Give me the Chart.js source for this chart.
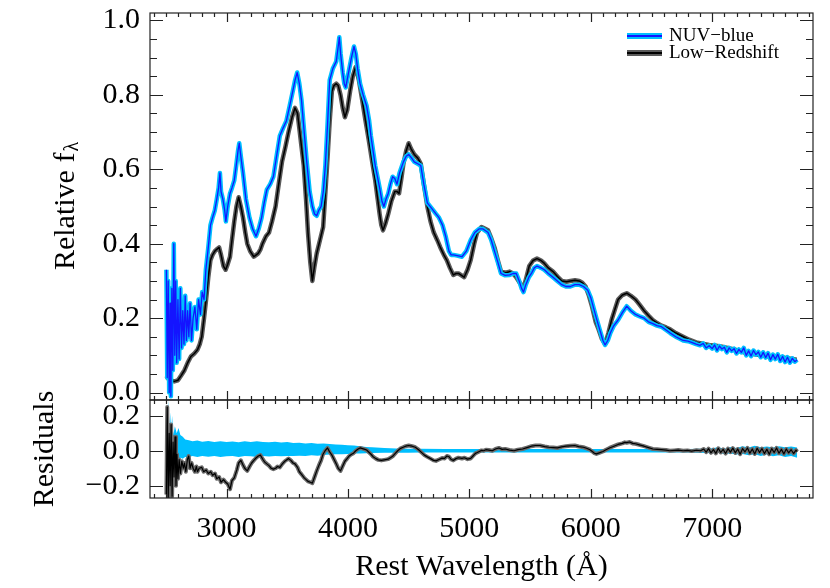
<!DOCTYPE html>
<html><head><meta charset="utf-8">
<script src="https://cdn.jsdelivr.net/npm/chart.js@4.4.1/dist/chart.umd.min.js"></script>
<style>
html,body{margin:0;padding:0;background:#fff;width:830px;height:588px;overflow:hidden}
canvas{position:absolute;left:0;top:0}
</style></head><body>
<canvas id="main" width="830" height="588"></canvas>
<canvas id="resid" width="830" height="588"></canvas>
<script>
// ---------------- data ----------------
const xTicks = [3000, 4000, 5000, 6000, 7000];
const mainYTicks = [0.0, 0.2, 0.4, 0.6, 0.8, 1.0];
const mainYMinor = [0.05,0.1,0.15,0.25,0.3,0.35,0.45,0.5,0.55,0.65,0.7,0.75,0.85,0.9,0.95];
const residYTicks = [-0.2, 0.0, 0.2];
const legendLabels = ['NUV\u2212blue', 'Low\u2212Redshift'];

const nuvWave = [2505,2512,2520,2528,2535,2542,2550,2558,2566,2574,2582,2590,2600,2610,2620,2630,2640,2650,2660,2670,2680,2690,2700,2712,2725,2740,2755,2770,2785,2800,2815,2830,2850,2868,2885,2904,2920,2935,2946,2955,2970,2985,2995,3010,3029,3045,3064,3080,3095,3105,3120,3136,3160,3189,3215,3243,3265,3289,3310,3332,3360,3386,3410,3439,3465,3493,3520,3546,3565,3582,3600,3618,3640,3661,3685,3707,3725,3743,3760,3779,3797,3814,3832,3850,3875,3904,3920,3929,3940,3957,3970,3982,4005,4029,4050,4065,4080,4100,4125,4154,4175,4189,4207,4225,4243,4261,4280,4296,4314,4332,4350,4368,4386,4404,4425,4457,4480,4500,4525,4546,4575,4600,4625,4654,4690,4725,4750,4779,4805,4832,4850,4868,4900,4939,4975,5011,5045,5082,5110,5154,5180,5207,5235,5261,5295,5332,5360,5386,5410,5430,5446,5465,5490,5511,5535,5557,5590,5618,5650,5689,5725,5761,5795,5832,5870,5904,5940,5975,6000,6025,6046,6064,6082,6100,6118,6140,6161,6190,6225,6260,6296,6330,6368,6400,6439,6475,6511,6545,6582,6620,6654,6700,6730,6761,6800,6830,6868,6900,6925,6950,6975,7000,7020,7040,7060,7080,7100,7120,7140,7160,7180,7200,7220,7240,7260,7280,7300,7320,7340,7360,7380,7400,7420,7440,7460,7480,7500,7520,7540,7560,7580,7600,7620,7640,7660,7680,7700];
const nuvFlux = [0.33,0.04,0.30,0.0,0.24,-0.01,0.28,0.06,0.40,0.10,0.30,0.08,0.25,0.09,0.28,0.12,0.22,0.13,0.26,0.14,0.22,0.15,0.24,0.14,0.20,0.23,0.17,0.25,0.21,0.27,0.25,0.33,0.39,0.45,0.47,0.49,0.52,0.55,0.59,0.54,0.52,0.49,0.46,0.50,0.535,0.55,0.57,0.61,0.65,0.67,0.63,0.59,0.52,0.47,0.44,0.42,0.44,0.47,0.51,0.545,0.56,0.58,0.63,0.69,0.71,0.73,0.77,0.81,0.84,0.86,0.83,0.785,0.70,0.62,0.54,0.50,0.48,0.475,0.49,0.50,0.54,0.61,0.72,0.84,0.87,0.89,0.93,0.955,0.91,0.86,0.83,0.82,0.86,0.90,0.93,0.91,0.87,0.83,0.80,0.77,0.73,0.69,0.65,0.61,0.58,0.55,0.515,0.50,0.52,0.535,0.56,0.58,0.575,0.56,0.59,0.62,0.635,0.64,0.63,0.62,0.615,0.61,0.56,0.51,0.495,0.48,0.47,0.45,0.42,0.38,0.37,0.37,0.368,0.365,0.38,0.41,0.43,0.44,0.44,0.43,0.41,0.38,0.35,0.32,0.315,0.316,0.32,0.32,0.30,0.28,0.27,0.29,0.31,0.32,0.335,0.34,0.335,0.33,0.32,0.31,0.30,0.29,0.285,0.285,0.29,0.29,0.285,0.275,0.255,0.225,0.20,0.18,0.16,0.14,0.128,0.14,0.16,0.18,0.195,0.215,0.232,0.22,0.21,0.205,0.20,0.19,0.185,0.18,0.177,0.168,0.16,0.15,0.145,0.14,0.138,0.135,0.13,0.127,0.132,0.12,0.126,0.118,0.128,0.113,0.125,0.117,0.122,0.108,0.12,0.112,0.118,0.105,0.116,0.108,0.12,0.10,0.112,0.098,0.113,0.102,0.109,0.095,0.108,0.094,0.106,0.088,0.102,0.09,0.103,0.085,0.097,0.082,0.095,0.08,0.092,0.083,0.088];

const lowWave = [2505,2525,2546,2570,2600,2625,2654,2680,2707,2735,2761,2780,2796,2815,2832,2850,2868,2885,2904,2920,2939,2955,2975,2993,3010,3029,3045,3064,3082,3100,3118,3136,3155,3171,3195,3225,3245,3261,3280,3296,3325,3350,3375,3404,3430,3457,3485,3511,3540,3564,3585,3600,3618,3636,3655,3671,3690,3707,3725,3743,3770,3796,3815,3832,3850,3868,3885,3904,3920,3939,3957,3975,3995,4018,4040,4064,4090,4118,4145,4171,4200,4225,4245,4261,4275,4289,4310,4332,4358,4386,4405,4421,4440,4457,4480,4500,4520,4546,4575,4600,4625,4654,4680,4707,4735,4761,4790,4814,4840,4868,4890,4911,4935,4957,4985,5011,5040,5064,5100,5130,5154,5180,5207,5235,5261,5300,5332,5360,5386,5415,5446,5470,5493,5525,5557,5590,5618,5650,5689,5725,5761,5800,5832,5870,5904,5930,5957,5985,6011,6040,6064,6090,6118,6145,6171,6200,6225,6260,6296,6330,6368,6400,6439,6475,6511,6545,6582,6620,6654,6700,6761,6810,6868,6920,6975,7030,7082,7135,7189,7240,7296,7350,7404,7460,7511,7565,7618,7660,7696];
const lowFlux = [0.045,0.035,0.032,0.03,0.033,0.045,0.06,0.08,0.097,0.105,0.115,0.13,0.15,0.2,0.25,0.31,0.356,0.37,0.38,0.385,0.39,0.37,0.34,0.33,0.345,0.365,0.41,0.46,0.50,0.525,0.50,0.47,0.43,0.40,0.38,0.365,0.37,0.374,0.385,0.40,0.42,0.43,0.46,0.50,0.56,0.62,0.66,0.70,0.74,0.765,0.75,0.71,0.66,0.61,0.52,0.43,0.35,0.30,0.34,0.374,0.41,0.445,0.54,0.63,0.73,0.81,0.825,0.83,0.825,0.80,0.765,0.74,0.76,0.81,0.85,0.875,0.84,0.785,0.73,0.68,0.62,0.57,0.52,0.48,0.45,0.436,0.455,0.48,0.515,0.54,0.54,0.535,0.575,0.615,0.65,0.67,0.655,0.64,0.63,0.615,0.56,0.50,0.46,0.43,0.41,0.39,0.37,0.356,0.335,0.316,0.32,0.32,0.315,0.31,0.33,0.356,0.40,0.43,0.445,0.44,0.436,0.415,0.39,0.355,0.325,0.322,0.325,0.32,0.31,0.295,0.28,0.31,0.34,0.355,0.36,0.355,0.347,0.335,0.325,0.312,0.30,0.298,0.30,0.302,0.30,0.295,0.285,0.26,0.23,0.19,0.17,0.145,0.13,0.16,0.195,0.225,0.25,0.262,0.267,0.26,0.25,0.237,0.22,0.207,0.195,0.187,0.18,0.175,0.17,0.16,0.15,0.142,0.135,0.131,0.128,0.126,0.123,0.119,0.115,0.11,0.105,0.103,0.10,0.098,0.097,0.095,0.092,0.09,0.088];

const nuvResWave = [2505,2512,2520,2528,2536,2544,2552,2562,2575,2590,2605,2620,2640,2660,2690,2720,2760,2800,2850,2900,2950,3000,3050,3100,3150,3200,3250,3300,3350,3400,3450,3500,3550,3600,3650,3700,3750,3800,3850,3900,3950,4000,4050,4100,4150,4200,4300,4400,4500,4600,4800,5000,5400,5800,6200,6600,6800,6900,7000,7050,7100,7150,7200,7250,7300,7350,7400,7450,7500,7550,7600,7650,7700];
const nuvResHi = [0.29,0.12,0.29,0.08,0.22,0.10,0.20,0.09,0.14,0.10,0.13,0.09,0.08,0.065,0.06,0.055,0.058,0.052,0.056,0.05,0.055,0.05,0.053,0.048,0.055,0.05,0.054,0.05,0.048,0.052,0.047,0.05,0.045,0.046,0.042,0.044,0.04,0.042,0.038,0.036,0.034,0.032,0.03,0.026,0.022,0.02,0.016,0.013,0.012,0.012,0.01,0.01,0.01,0.01,0.01,0.01,0.01,0.012,0.014,0.02,0.012,0.022,0.016,0.026,0.018,0.028,0.02,0.025,0.018,0.026,0.02,0.024,0.018];
const nuvResLo = [-0.29,-0.10,-0.25,-0.05,-0.29,-0.08,-0.15,-0.06,-0.07,-0.05,-0.06,-0.04,-0.045,-0.035,-0.035,-0.03,-0.035,-0.03,-0.034,-0.03,-0.035,-0.032,-0.03,-0.036,-0.03,-0.032,-0.035,-0.03,-0.033,-0.03,-0.032,-0.03,-0.03,-0.028,-0.03,-0.026,-0.028,-0.024,-0.022,-0.02,-0.02,-0.018,-0.016,-0.015,-0.014,-0.013,-0.012,-0.012,-0.011,-0.01,-0.01,-0.01,-0.01,-0.01,-0.01,-0.01,-0.01,-0.012,-0.014,-0.012,-0.018,-0.016,-0.022,-0.018,-0.026,-0.02,-0.03,-0.022,-0.032,-0.026,-0.036,-0.03,-0.04];

const lowResWave = [2505,2512,2520,2528,2536,2544,2552,2560,2568,2576,2584,2592,2600,2610,2620,2632,2645,2654,2665,2678,2689,2700,2712,2725,2740,2752,2761,2775,2796,2812,2832,2850,2870,2886,2905,2920,2939,2955,2975,2993,3010,3029,3045,3064,3085,3100,3118,3135,3150,3171,3190,3207,3225,3245,3262,3279,3300,3315,3332,3350,3368,3386,3405,3420,3439,3460,3480,3500,3511,3530,3548,3564,3585,3600,3618,3640,3656,3671,3690,3707,3725,3743,3760,3779,3795,3812,3832,3848,3868,3886,3904,3920,3939,3955,3975,3993,4010,4030,4046,4065,4084,4100,4120,4140,4154,4175,4190,4207,4230,4250,4275,4300,4330,4350,4368,4390,4410,4430,4455,4475,4500,4529,4555,4582,4610,4630,4654,4680,4705,4725,4750,4775,4796,4815,4832,4850,4868,4890,4910,4939,4960,4985,5011,5030,5050,5065,5082,5100,5118,5136,5160,5189,5215,5243,5270,5296,5330,5368,5400,5439,5475,5511,5545,5582,5620,5654,5690,5725,5760,5796,5830,5868,5900,5939,5965,5993,6015,6030,6046,6070,6100,6125,6154,6190,6225,6260,6280,6296,6320,6345,6368,6400,6439,6475,6511,6545,6582,6620,6650,6689,6720,6760,6796,6830,6870,6904,6930,6950,6970,6990,7010,7030,7050,7070,7090,7110,7130,7150,7170,7190,7210,7230,7250,7270,7290,7310,7330,7350,7370,7390,7410,7430,7450,7470,7490,7510,7530,7550,7570,7590,7610,7630,7650,7670,7690,7700];
const lowResVal = [-0.25,0.25,-0.28,0.10,-0.20,0.15,-0.26,0.05,-0.15,0.08,-0.20,-0.02,-0.16,-0.05,-0.13,-0.06,-0.10,-0.07,-0.12,-0.05,-0.03,-0.10,-0.07,-0.10,-0.12,-0.09,-0.12,-0.10,-0.095,-0.12,-0.11,-0.13,-0.12,-0.14,-0.13,-0.16,-0.15,-0.18,-0.165,-0.18,-0.19,-0.22,-0.17,-0.155,-0.11,-0.07,-0.055,-0.08,-0.10,-0.115,-0.09,-0.07,-0.055,-0.04,-0.03,-0.025,-0.05,-0.065,-0.075,-0.085,-0.10,-0.105,-0.10,-0.09,-0.095,-0.075,-0.06,-0.05,-0.045,-0.055,-0.07,-0.075,-0.095,-0.12,-0.135,-0.155,-0.165,-0.175,-0.18,-0.185,-0.15,-0.115,-0.085,-0.055,-0.02,0.0,0.016,-0.005,-0.025,-0.05,-0.075,-0.10,-0.115,-0.09,-0.06,-0.045,-0.03,-0.02,-0.014,0.0,0.01,0.016,0.012,0.008,0.004,-0.01,-0.02,-0.034,-0.045,-0.052,-0.055,-0.052,-0.048,-0.04,-0.032,-0.015,0.0,0.012,0.02,0.026,0.03,0.026,0.02,0.006,-0.012,-0.025,-0.035,-0.045,-0.055,-0.058,-0.05,-0.042,-0.044,-0.03,-0.034,-0.05,-0.055,-0.045,-0.04,-0.044,-0.04,-0.048,-0.044,-0.03,-0.015,-0.01,-0.004,0.002,0.0,0.006,0.004,0.0,0.01,0.016,0.008,0.01,0.004,0.0,0.006,0.01,0.018,0.026,0.03,0.03,0.024,0.02,0.018,0.016,0.022,0.026,0.028,0.03,0.024,0.02,0.014,0.006,-0.006,-0.014,-0.018,-0.012,-0.004,0.006,0.016,0.026,0.036,0.042,0.048,0.046,0.05,0.042,0.04,0.034,0.026,0.018,0.01,0.008,0.006,0.004,0.0,0.002,0.004,0.0,0.002,-0.002,0.003,0.0,0.01,-0.008,0.012,-0.012,0.006,-0.015,0.014,-0.01,0.008,-0.016,0.012,-0.008,0.015,-0.012,0.01,-0.02,0.012,-0.006,0.016,-0.014,0.01,-0.018,0.014,-0.01,0.012,-0.016,0.008,-0.02,0.012,-0.01,0.016,-0.014,0.008,-0.018,0.01,-0.012,0.006,-0.016,0.004,-0.005];

// ---------------- helpers ----------------
const pts = (xs, ys) => xs.map((x, i) => ({x: x, y: ys[i]}));
const fmt = v => (v < 0 ? '\u2212' : '') + Math.abs(v).toFixed(1);
const SERIF = "'Liberation Serif','DejaVu Serif',serif";
const XMIN = 2370, XMAX = 7830;
Chart.defaults.font.family = SERIF;
Chart.defaults.color = '#000';

const noPadY = s => { s.width = 150; s.paddingTop = 0; s.paddingBottom = 0; };

function framePlugin(id, majorY, minorY) {
  return {
    id: id,
    afterDatasetsDraw(chart) {
      const {ctx, chartArea: a, scales: {x, y}} = chart;
      ctx.save();
      ctx.strokeStyle = '#222';
      ctx.lineWidth = 1.2;
      ctx.strokeRect(a.left, a.top, a.right - a.left, a.bottom - a.top);
      ctx.beginPath();
      for (let v = 2400; v <= XMAX; v += 100) {
        const px = Math.round(x.getPixelForValue(v)) + 0.5;
        const len = (v % 1000 === 0) ? 9 : 4;
        ctx.moveTo(px, a.top); ctx.lineTo(px, a.top + len);
        ctx.moveTo(px, a.bottom); ctx.lineTo(px, a.bottom - len);
      }
      const yt = (v, len) => {
        const py = Math.round(y.getPixelForValue(v)) + 0.5;
        ctx.moveTo(a.left, py); ctx.lineTo(a.left + len, py);
        ctx.moveTo(a.right, py); ctx.lineTo(a.right - len, py);
      };
      majorY.forEach(v => yt(v, 13));
      minorY.forEach(v => yt(v, 7));
      ctx.stroke();
      ctx.restore();
    }
  };
}

const legendPlugin = {
  id: 'lgd',
  afterDatasetsDraw(chart) {
    const ctx = chart.ctx;
    ctx.save();
    const x0 = 627, x1 = 662;
    const rows = [
      {y: 36, band: '#00bfff', line: '#1414ff'},
      {y: 53, band: '#5a5a5a', line: '#000'}
    ];
    rows.forEach((r, i) => {
      ctx.lineCap = 'butt';
      ctx.strokeStyle = r.band; ctx.lineWidth = 6;
      ctx.beginPath(); ctx.moveTo(x0, r.y); ctx.lineTo(x1, r.y); ctx.stroke();
      ctx.strokeStyle = r.line; ctx.lineWidth = 2;
      ctx.beginPath(); ctx.moveTo(x0, r.y); ctx.lineTo(x1, r.y); ctx.stroke();
      ctx.fillStyle = '#000';
      ctx.font = "19px " + SERIF;
      ctx.textBaseline = 'middle';
      ctx.textAlign = 'left';
      ctx.fillText(legendLabels[i], 669, r.y);
    });
    ctx.restore();
  }
};

const yTitlePlugin = {
  id: 'ytitle',
  afterDraw(chart) {
    const ctx = chart.ctx;
    const a = chart.chartArea;
    ctx.save();
    ctx.translate(66, (a.top + a.bottom) / 2);
    ctx.rotate(-Math.PI / 2);
    ctx.fillStyle = '#000';
    ctx.textBaseline = 'middle';
    ctx.textAlign = 'left';
    const main = 'Relative f', sub = '\u03bb';
    ctx.font = "30px " + SERIF;
    const w1 = ctx.measureText(main).width;
    ctx.font = "20px " + SERIF;
    const w2 = ctx.measureText(sub).width;
    const start = -(w1 + w2) / 2;
    ctx.font = "30px " + SERIF;
    ctx.fillText(main, start, 0);
    ctx.font = "20px " + SERIF;
    ctx.fillText(sub, start + w1 + 1, 7);
    ctx.restore();
  }
};

const line = (data, color, width, order, extra) => Object.assign({
  data: data, borderColor: color, backgroundColor: color, borderWidth: width,
  pointRadius: 0, fill: false, order: order, clip: 0, tension: 0,
  borderJoinStyle: 'round'
}, extra || {});

// ---------------- main panel ----------------
new Chart(document.getElementById('main'), {
  type: 'line',
  data: {
    datasets: [
      line(pts(nuvWave, nuvFlux), '#1414ff', 1.3, 1, {label: legendLabels[0]}),
      line(pts(nuvWave, nuvFlux), '#00bfff', 4.5, 2, {label: 'NUV band'}),
      line(pts(lowWave, lowFlux), '#000000', 1.5, 3, {label: legendLabels[1]}),
      line(pts(lowWave, lowFlux), '#5a5a5a', 4.5, 4, {label: 'Low band'})
    ]
  },
  options: {
    responsive: false, animation: false, devicePixelRatio: 1,
    layout: {padding: {left: 0, right: 17, top: 13, bottom: 188}},
    plugins: {legend: {display: false}, tooltip: {enabled: false}},
    scales: {
      x: {type: 'linear', min: XMIN, max: XMAX, display: false},
      y: {
        type: 'linear', min: -0.02, max: 1.02,
        afterFit: noPadY,
        afterBuildTicks: s => { s.ticks = mainYTicks.map(v => ({value: v})); },
        grid: {display: false, drawTicks: false},
        border: {display: false},
        ticks: {padding: 10, font: {size: 30}, color: '#000', callback: v => fmt(v), autoSkip: false}
      }
    }
  },
  plugins: [framePlugin('frameMain', mainYTicks, mainYMinor), legendPlugin, yTitlePlugin]
});

// ---------------- residual panel ----------------
new Chart(document.getElementById('resid'), {
  type: 'line',
  data: {
    datasets: [
      line(pts(lowResWave, lowResVal), '#000000', 1.2, 1, {label: 'Low\u2212Redshift residual'}),
      line(pts(lowResWave, lowResVal), '#6a6a6a', 4, 2, {label: 'Low residual band'}),
      line(pts(nuvResWave, nuvResHi), 'rgba(0,0,0,0)', 0, 3, {label: 'NUV residual upper', fill: '+1', backgroundColor: '#00bfff'}),
      line(pts(nuvResWave, nuvResLo), 'rgba(0,0,0,0)', 0, 4, {label: 'NUV residual lower'})
    ]
  },
  options: {
    responsive: false, animation: false, devicePixelRatio: 1,
    layout: {padding: {left: 0, right: 17, top: 400, bottom: 0}},
    plugins: {legend: {display: false}, tooltip: {enabled: false}},
    scales: {
      x: {
        type: 'linear', min: XMIN, max: XMAX,
        afterFit: s => { s.height = 90; s.paddingLeft = 0; s.paddingRight = 0; },
        afterBuildTicks: s => { s.ticks = xTicks.map(v => ({value: v})); },
        grid: {display: false, drawTicks: false},
        border: {display: false},
        ticks: {padding: 13, font: {size: 30}, color: '#000', maxRotation: 0, autoSkip: false, callback: v => String(v)},
        title: {display: true, text: 'Rest Wavelength (\u00c5)', font: {size: 30}, color: '#000', padding: {top: 0, bottom: 3}}
      },
      y: {
        type: 'linear', min: -0.27, max: 0.29,
        afterFit: noPadY,
        afterBuildTicks: s => { s.ticks = residYTicks.map(v => ({value: v})); },
        grid: {display: false, drawTicks: false},
        border: {display: false},
        ticks: {padding: 10, font: {size: 30}, color: '#000', callback: v => fmt(v), autoSkip: false},
        title: {display: true, text: 'Residuals', font: {size: 30}, color: '#000', padding: {top: 27, bottom: 0}}
      }
    }
  },
  plugins: [framePlugin('frameRes', residYTicks, [])]
});
</script>
</body></html>
